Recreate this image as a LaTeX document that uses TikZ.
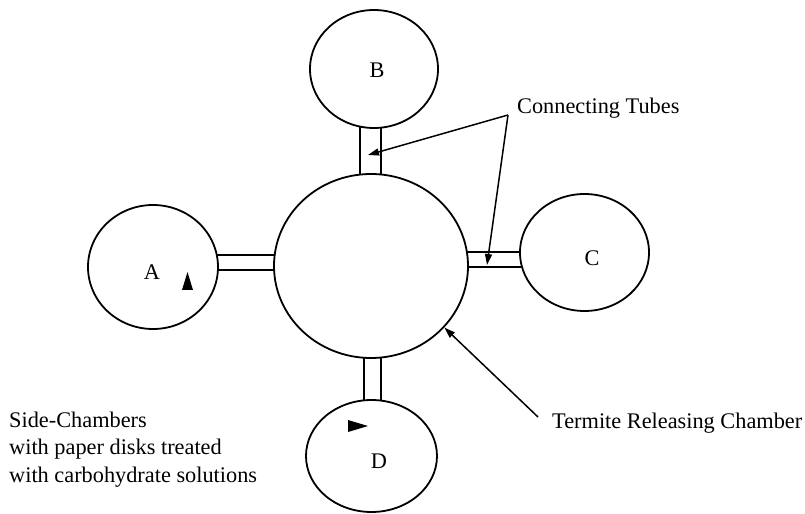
\documentclass[tikz,border=0pt]{standalone}
\usepackage{fontspec}
\setmainfont{Liberation Serif}
\usetikzlibrary{shapes.geometric,arrows.meta,backgrounds}
\begin{document}
\begin{tikzpicture}[x=1bp,y=-1bp,
  chamber/.style={ellipse,draw,fill=white,line width=1.8bp,inner sep=0pt},
  tube/.style={line width=1.8bp},
  lbl/.style={font=\fontsize{22.4}{27.5}\selectfont,inner sep=0pt},
  pointer/.style={line width=1.5bp,-{Triangle[length=11bp,width=7bp]}}]
\useasboundingbox (0,0) rectangle (805,514);
% chambers
\node[chamber,minimum width=194bp,minimum height=184bp] (M) at (371,266) {};
\node[chamber,minimum width=130bp,minimum height=124bp] (A) at (153,267) {};
\node[chamber,minimum width=128bp,minimum height=118bp] (B) at (374,69) {};
\node[chamber,minimum width=129bp,minimum height=117bp] (C) at (584.5,252.5) {};
\node[chamber,minimum width=131bp,minimum height=112bp] (D) at (371.5,456) {};
% tubes
\begin{scope}[on background layer]
\draw[tube] (A.center |- 0,255) -- (M.center |- 0,255);
\draw[tube] (A.center |- 0,270) -- (M.center |- 0,270);
\draw[tube] (360,0 |- B.center) -- (360,0 |- M.center);
\draw[tube] (381,0 |- B.center) -- (381,0 |- M.center);
\draw[tube] (M.center |- 0,252) -- (C.center |- 0,252);
\draw[tube] (M.center |- 0,267) -- (C.center |- 0,267);
\draw[tube] (364,0 |- M.center) -- (364,0 |- D.center);
\draw[tube] (381,0 |- M.center) -- (381,0 |- D.center);
\end{scope}
% chamber labels
\node[lbl] (LA) at (152,272) {A};
\node[lbl] (LB) at (377,70) {B};
\node[lbl] (LC) at (592,258) {C};
\node[lbl] (LD) at (379,461) {D};
% markers
\fill (182,290) -- (193,290) -- (187.5,272) -- cycle;
\fill (348,420) -- (368,426) -- (348,432) -- cycle;
% texts
\node[lbl,anchor=base west] (CT) at (517,114) {Connecting Tubes};
\node[lbl,anchor=base west] (TR) at (552,428) {Termite Releasing Chamber};
\node[lbl,anchor=base west,align=left] (SC) at (9,482) {Side-Chambers\\with paper disks treated\\with carbohydrate solutions};
% pointers
\coordinate (J) at (508,115);
\coordinate (TB) at (368,155);
\coordinate (TC) at (487,265);
\coordinate (TS) at (538,417);
\draw[pointer] (J) -- (TB);
\draw[pointer] (J) -- (TC);
\draw[pointer] (TS) -- (M.-40);
\end{tikzpicture}
\end{document}
